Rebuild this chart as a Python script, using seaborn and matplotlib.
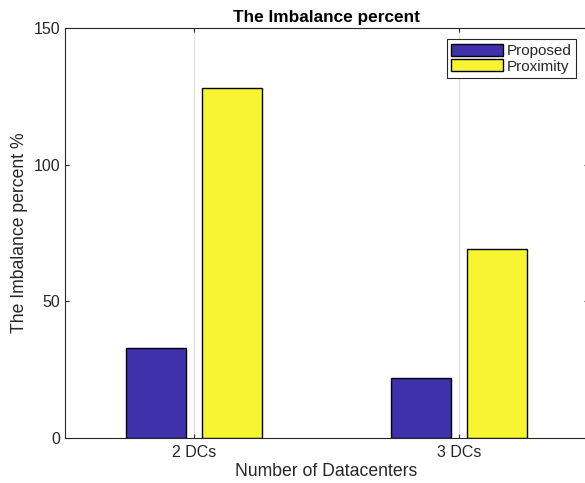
import pandas as pd
import seaborn as sns
import matplotlib
matplotlib.use("Agg")
import matplotlib.pyplot as plt

categories = ['2 DCs', '3 DCs']
methods = ['Proposed', 'Proximity']
proposed = [33, 22]
proximity = [128, 69]

df = pd.DataFrame({
    'dc': categories * 2,
    'method': [methods[0]] * 2 + [methods[1]] * 2,
    'value': proposed + proximity,
})

sns.set_style('white')
plt.rcParams['font.family'] = ['Liberation Sans', 'DejaVu Sans']
ink = '#262626'

fig = plt.figure(figsize=(5.85, 4.83), dpi=100)
ax = fig.add_axes([65 / 585, 45 / 483, 523 / 585, 410 / 483])

sns.barplot(data=df, x='dc', y='value', hue='method', order=categories,
            hue_order=methods, palette=['#3D32AB', '#F7F531'],
            width=0.57, gap=0.2, edgecolor='black', linewidth=1.0,
            saturation=1, errorbar=None, ax=ax)

ax.set_xlim(-0.487, 1.487)
ax.set_ylim(0, 150)
ax.set_yticks([0, 50, 100, 150])
ax.xaxis.grid(True, color='#dcdcdc', linewidth=0.8)
ax.set_axisbelow(True)
for s in ax.spines.values():
    s.set_color(ink)
    s.set_linewidth(0.8)
    s.set_visible(True)
ax.tick_params(direction='in', length=3, colors=ink, labelsize=11.5,
               top=True, right=True, left=True, bottom=True)
ax.tick_params(axis='x', pad=5)
ax.set_xlabel('Number of Datacenters', fontsize=12.7, color=ink, labelpad=2)
ax.set_ylabel('The Imbalance percent %', fontsize=12.7, color=ink, labelpad=4)
ax.set_title('The Imbalance percent', fontsize=12.4, fontweight='bold', color='black', pad=4)

leg = ax.legend(loc='upper right', bbox_to_anchor=(0.978, 0.972), fontsize=11,
                frameon=True, fancybox=False, edgecolor=ink, framealpha=1,
                handlelength=3.4, handleheight=0.85, handletextpad=0.25,
                labelspacing=0.05, borderpad=0.3, borderaxespad=0)
leg.get_frame().set_linewidth(0.8)

fig.savefig('out.png', dpi=100)
